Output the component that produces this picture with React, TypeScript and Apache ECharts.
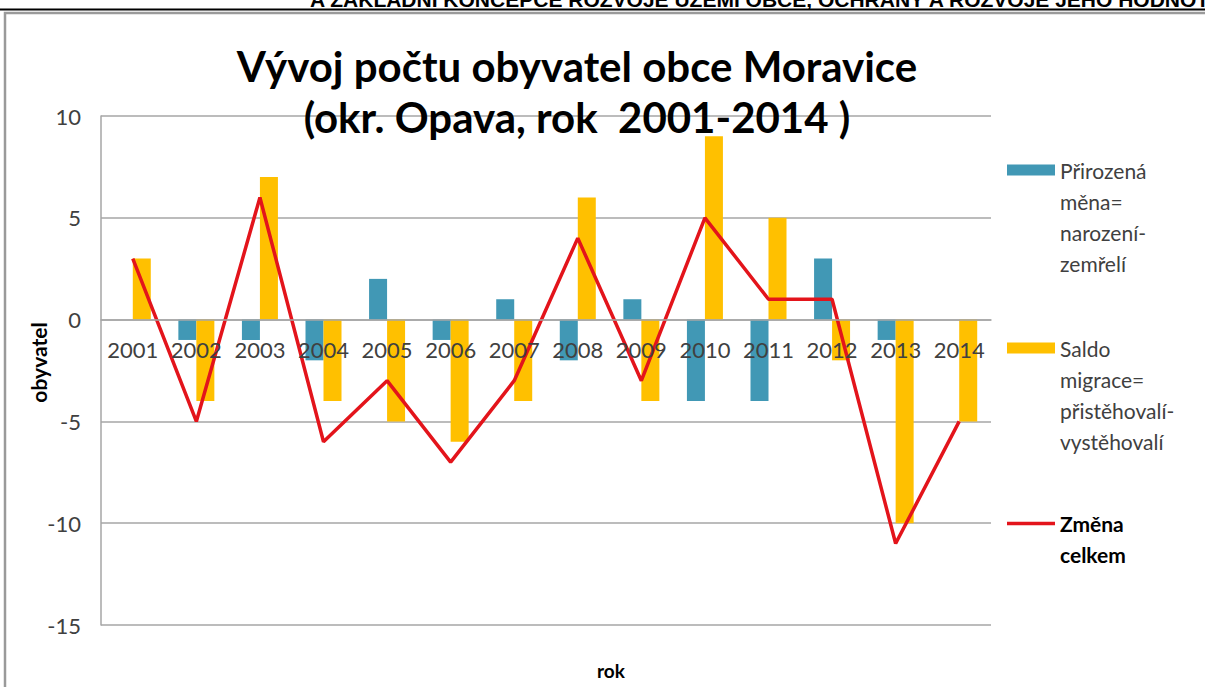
import React, { useEffect, useRef } from 'react';
import * as echarts from 'echarts';

const years = ['2001', '2002', '2003', '2004', '2005', '2006', '2007', '2008', '2009', '2010', '2011', '2012', '2013', '2014'];
const naturalChange = [0, -1, -1, -2, 2, -1, 1, -2, 1, -4, -4, 3, -1, 0];
const migrationBalance = [3, -4, 7, -4, -5, -6, -4, 6, -4, 9, 5, -2, -10, -5];
const totalChange = [3, -5, 6, -6, -3, -7, -3, 4, -3, 5, 1, 1, -11, -5];
const yMin = -15;
const yMax = 10;
const yInterval = 5;
const seriesNames = [
  'Přirozená měna=narození-zemřelí',
  'Saldo migrace=přistěhovalí-vystěhovalí',
  'Změna celkem',
];
const legendLines = [
  ['Přirozená', 'měna=', 'narození-', 'zemřelí'],
  ['Saldo', 'migrace=', 'přistěhovalí-', 'vystěhovalí'],
  ['Změna', 'celkem'],
];
const titleText = 'Vývoj počtu obyvatel obce Moravice\n(okr. Opava, rok  2001-2014 )';
const headerText = 'A ZÁKLADNÍ KONCEPCE ROZVOJE ÚZEMÍ OBCE, OCHRANY A ROZVOJE JEHO HODNOT';
const xName = 'rok';
const yName = 'obyvatel';

const FONT = 'Lato, "Open Sans", sans-serif';
const colors = ['#4198B5', '#FFC000', '#E3141B'];

export default function App() {
  const ref = useRef<HTMLDivElement>(null);
  useEffect(() => {
    if (!ref.current) return;
    const chart = echarts.init(ref.current, undefined, { renderer: 'svg' });
    const W = 1205;
    const H = 687;
    const grid = { left: 101, right: 214, top: 116, bottom: 62 };
    const gridH = H - grid.top - grid.bottom;
    const zeroOffset = -(gridH * (0 - yMin)) / (yMax - yMin);
    const legendIconCenters = [170, 348, 523.5];
    const lh = 31;
    chart.setOption({
      animation: false,
      backgroundColor: '#ffffff',
      title: [
        {
          text: titleText,
          left: 577,
          top: 40,
          padding: 0,
          textAlign: 'center',
          textStyle: { fontFamily: FONT, fontSize: 42, fontWeight: 'bold', color: '#000', lineHeight: 51 },
        },
        {
          text: xName,
          left: 597,
          top: 661,
          padding: 0,
          textStyle: { fontFamily: FONT, fontSize: 19, fontWeight: 'bold', color: '#000' },
        },
      ],
      graphic: [
        {
          type: 'rect',
          shape: { x: 5, y: 13, width: W + 20, height: H + 20 },
          style: { fill: '#ffffff', stroke: '#9a9a9a', lineWidth: 2.5 },
          z: -10,
          silent: true,
        },
        {
          type: 'line',
          shape: { x1: 0, y1: 9.5, x2: W, y2: 9.5 },
          style: { stroke: '#000', lineWidth: 2 },
          silent: true,
        },
        {
          type: 'text',
          x: 310,
          y: -1,
          style: {
            text: headerText,
            font: 'bold 21px "Liberation Sans", Arial, sans-serif',
            fill: '#000',
            verticalAlign: 'middle',
          },
          silent: true,
        },
      ],
      legend: seriesNames.map((n, i) => {
        const lines = legendLines[i];
        const padded = new Array(lines.length - 1).fill('').concat(lines).join('\n');
        const blockH = (2 * lines.length - 1) * lh;
        return {
          data: [{ name: n, icon: 'rect' }],
          orient: 'vertical',
          left: 1007,
          top: legendIconCenters[i] - blockH / 2,
          padding: 0,
          itemWidth: 48,
          itemHeight: i === 2 ? 3.5 : 11,
          itemGap: 0,
          selectedMode: false,
          formatter: () => padded,
          textStyle: {
            fontFamily: FONT,
            fontSize: 21,
            lineHeight: lh,
            color: i === 2 ? '#000' : '#404040',
            fontWeight: i === 2 ? 'bold' : 'normal',
          },
        };
      }),
      grid,
      xAxis: {
        type: 'category',
        data: years,
        offset: zeroOffset,
        axisLine: { show: true, onZero: false, lineStyle: { color: '#a6a6a6', width: 1.5 } },
        axisTick: { show: false },
        axisLabel: { fontFamily: FONT, fontSize: 22, color: '#404040', margin: 19, interval: 0 },
        splitLine: { show: false },
        z: 10,
      },
      yAxis: {
        type: 'value',
        min: yMin,
        max: yMax,
        interval: yInterval,
        name: yName,
        nameLocation: 'middle',
        nameRotate: 90,
        nameGap: 52,
        nameMoveOverlap: false,
        nameTextStyle: { fontFamily: FONT, fontSize: 21, fontWeight: 'bold', color: '#000', padding: [0, 0, 0, 16] },
        axisLine: { show: true, lineStyle: { color: '#a6a6a6', width: 1.5 } },
        axisTick: { show: false },
        axisLabel: { fontFamily: FONT, fontSize: 22, color: '#404040', margin: 20 },
        splitLine: { show: true, lineStyle: { color: '#a6a6a6', width: 1.5 } },
      },
      series: [
        {
          name: seriesNames[0],
          type: 'bar',
          data: naturalChange,
          barWidth: 18,
          barGap: '0%',
          itemStyle: { color: colors[0] },
        },
        {
          name: seriesNames[1],
          type: 'bar',
          data: migrationBalance,
          barWidth: 18,
          barGap: '0%',
          itemStyle: { color: colors[1] },
        },
        {
          name: seriesNames[2],
          type: 'line',
          data: totalChange,
          symbol: 'none',
          lineStyle: { color: colors[2], width: 3.5 },
          itemStyle: { color: colors[2] },
          z: 5,
        },
      ],
    });
    return () => chart.dispose();
  }, []);
  return (
    <div
      ref={ref}
      style={{ position: 'fixed', left: 0, top: 0, width: 1205, height: 687 }}
    />
  );
}
